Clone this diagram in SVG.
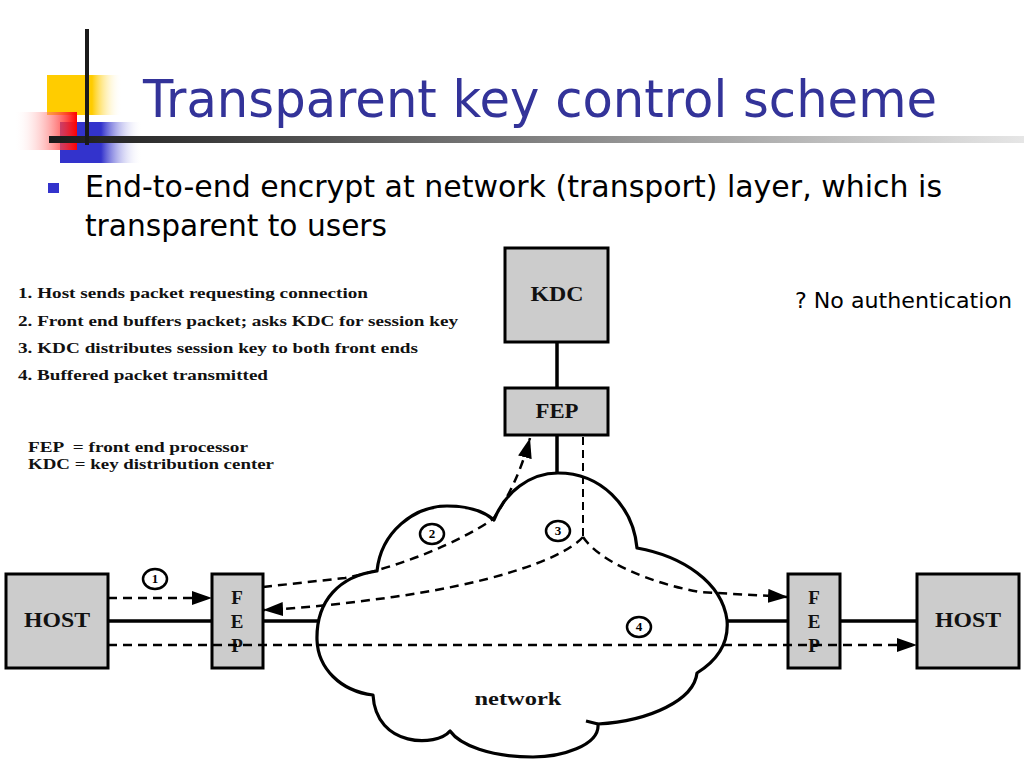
<svg xmlns="http://www.w3.org/2000/svg" width="1024" height="768" viewBox="0 0 1024 768">
<defs>
<linearGradient id="gy" x1="0" y1="0" x2="1" y2="0"><stop offset="0" stop-color="#FFCC00"/><stop offset="0.6" stop-color="#FFCC00"/><stop offset="1" stop-color="#FFFFFF" stop-opacity="0"/></linearGradient>
<linearGradient id="gr" x1="0" y1="0" x2="1" y2="0"><stop offset="0" stop-color="#FFFFFF" stop-opacity="0"/><stop offset="1" stop-color="#FF0000"/></linearGradient>
<linearGradient id="gb" x1="0" y1="0" x2="1" y2="0"><stop offset="0" stop-color="#3333CC"/><stop offset="0.5" stop-color="#3333CC"/><stop offset="1" stop-color="#FFFFFF" stop-opacity="0"/></linearGradient>
<linearGradient id="gbar" x1="0" y1="0" x2="1" y2="0"><stop offset="0" stop-color="#1a1a1a"/><stop offset="0.45" stop-color="#777777"/><stop offset="1" stop-color="#e6e6e6"/></linearGradient>
<marker id="ah" markerWidth="20" markerHeight="14" refX="20" refY="7" orient="auto" markerUnits="userSpaceOnUse"><path d="M0,0 L20,7 L0,14 Z" fill="#000"/></marker>
</defs>
<style>
.box{fill:#cccccc;stroke:#000;stroke-width:3}
.lbl{font-family:"Liberation Serif","Times New Roman",serif;font-weight:bold;fill:#111;text-anchor:middle}
.note{font-family:"Liberation Serif","Times New Roman",serif;font-weight:bold;font-size:15px;fill:#111}
.solid{fill:none;stroke:#000;stroke-width:3.5}
.dash{fill:none;stroke:#000;stroke-width:2.5;stroke-dasharray:9 6}
.dash2{fill:none;stroke:#000;stroke-width:2;stroke-dasharray:8 5}
.num{fill:#fff;stroke:#000;stroke-width:2.5}
.numt{font-family:"Liberation Serif","Times New Roman",serif;font-weight:bold;font-size:13px;fill:#000;text-anchor:middle}
.sans{font-family:"DejaVu Sans","Noto Sans",sans-serif}
</style>
<rect width="1024" height="768" fill="#fff"/>
<g id="decor">
<rect x="47" y="75" width="75" height="40" fill="url(#gy)"/>
<rect x="60" y="122" width="82" height="41" fill="url(#gb)"/>
<rect x="14" y="112" width="63" height="38" fill="url(#gr)"/>
<rect x="49" y="136" width="975" height="7" fill="url(#gbar)"/>
<rect x="85" y="29" width="4" height="116" fill="#1a1a1a"/>
</g>
<g id="title"><text x="143" y="117" class="sans" font-size="52" fill="#333399" textLength="794" lengthAdjust="spacingAndGlyphs">Transparent key control scheme</text></g>
<g id="bullet">
<rect x="48" y="183" width="11" height="10" fill="#3333CC"/>
<text x="85" y="197" class="sans" font-size="30" fill="#000" textLength="857" lengthAdjust="spacingAndGlyphs">End-to-end encrypt at network (transport) layer, which is</text>
<text x="85" y="236" class="sans" font-size="30" fill="#000" textLength="302" lengthAdjust="spacingAndGlyphs">transparent to users</text>
</g>
<g id="note-auth"><text x="795" y="308" class="sans" font-size="21" fill="#000" textLength="217" lengthAdjust="spacingAndGlyphs">? No authentication</text></g>
<g id="legend">
<text x="18" y="298" class="note" textLength="350" lengthAdjust="spacingAndGlyphs">1. Host sends packet requesting connection</text>
<text x="18" y="326" class="note" textLength="440" lengthAdjust="spacingAndGlyphs">2. Front end buffers packet; asks KDC for session key</text>
<text x="18" y="353" class="note" textLength="400" lengthAdjust="spacingAndGlyphs">3. KDC distributes session key to both front ends</text>
<text x="18" y="380" class="note" textLength="250" lengthAdjust="spacingAndGlyphs">4. Buffered packet transmitted</text>
<text x="28" y="452" class="note" xml:space="preserve" textLength="220" lengthAdjust="spacingAndGlyphs">FEP  = front end processor</text>
<text x="28" y="469" class="note" textLength="246" lengthAdjust="spacingAndGlyphs">KDC = key distribution center</text>
</g>
<g id="network">
<path d="M377,571 C381,532 414,506 447,506 C469,506 485,512 494,520 C505,492 530,473 558,473 C600,473 633,505 637,548 C682,556 722,582 727,620 C729,642 718,660 697,673 C694,700 650,721 598,724 C600,746 560,757 533,757 C490,757 460,745 450,731 C437,747 376,748 373,695 C340,691 318,668 317,640 C316,600 340,576 377,571 Z" fill="#fff" stroke="#000" stroke-width="3.2" stroke-linejoin="round"/>
<path d="M598,724 L586,721" fill="none" stroke="#000" stroke-width="3"/>
<text x="518" y="705" class="lbl" font-size="19" textLength="87" lengthAdjust="spacingAndGlyphs">network</text>
</g>
<g id="kdc"><rect x="505" y="248" width="103" height="94" class="box"/><text x="557" y="301" class="lbl" font-size="21" textLength="53" lengthAdjust="spacingAndGlyphs">KDC</text></g>
<g id="fep-top"><rect x="505" y="388" width="103" height="47" class="box"/><text x="557" y="418" class="lbl" font-size="20" textLength="43" lengthAdjust="spacingAndGlyphs">FEP</text></g>
<g id="host-left"><rect x="6" y="574" width="102" height="94" class="box"/><text x="57" y="627" class="lbl" font-size="20" textLength="66" lengthAdjust="spacingAndGlyphs">HOST</text></g>
<g id="fep-left"><rect x="212" y="574" width="51" height="94" class="box"/><text x="237" y="604" class="lbl" font-size="19">F</text><text x="237" y="628" class="lbl" font-size="19">E</text><text x="237" y="652" class="lbl" font-size="19">P</text></g>
<g id="fep-right"><rect x="788" y="574" width="52" height="94" class="box"/><text x="814" y="604" class="lbl" font-size="19">F</text><text x="814" y="628" class="lbl" font-size="19">E</text><text x="814" y="652" class="lbl" font-size="19">P</text></g>
<g id="host-right"><rect x="917" y="574" width="102" height="94" class="box"/><text x="968" y="627" class="lbl" font-size="20" textLength="66" lengthAdjust="spacingAndGlyphs">HOST</text></g>
<g id="connectors">
<path class="solid" d="M108,621 H212 M263,621 H318 M727,621 H788 M840,621 H917 M557,342 V388 M557,435 V474"/>
<path class="dash" d="M108,598 H212" marker-end="url(#ah)"/>
<path class="dash" d="M108,645 H917" marker-end="url(#ah)"/>
<path class="dash" d="M263,587 L345,578 C400,567 460,542 493,519 C507,500 521,472 530,438" marker-end="url(#ah)"/>
<path class="dash2" d="M583,437 V537"/>
<path class="dash" d="M583,537 C560,562 480,585 393,597 C350,603 305,608 263,610" marker-end="url(#ah)"/>
<path class="dash" d="M583,537 C600,562 650,583 700,592 L788,597" marker-end="url(#ah)"/>
</g>
<g id="step-labels">
<ellipse cx="155" cy="579" rx="12" ry="10" class="num"/><text x="155" y="583" class="numt">1</text>
<ellipse cx="432" cy="534" rx="12" ry="10" class="num"/><text x="432" y="538" class="numt">2</text>
<ellipse cx="558" cy="531" rx="12" ry="10" class="num"/><text x="558" y="535" class="numt">3</text>
<ellipse cx="639" cy="627" rx="12" ry="10" class="num"/><text x="639" y="631" class="numt">4</text>
</g>
</svg>
